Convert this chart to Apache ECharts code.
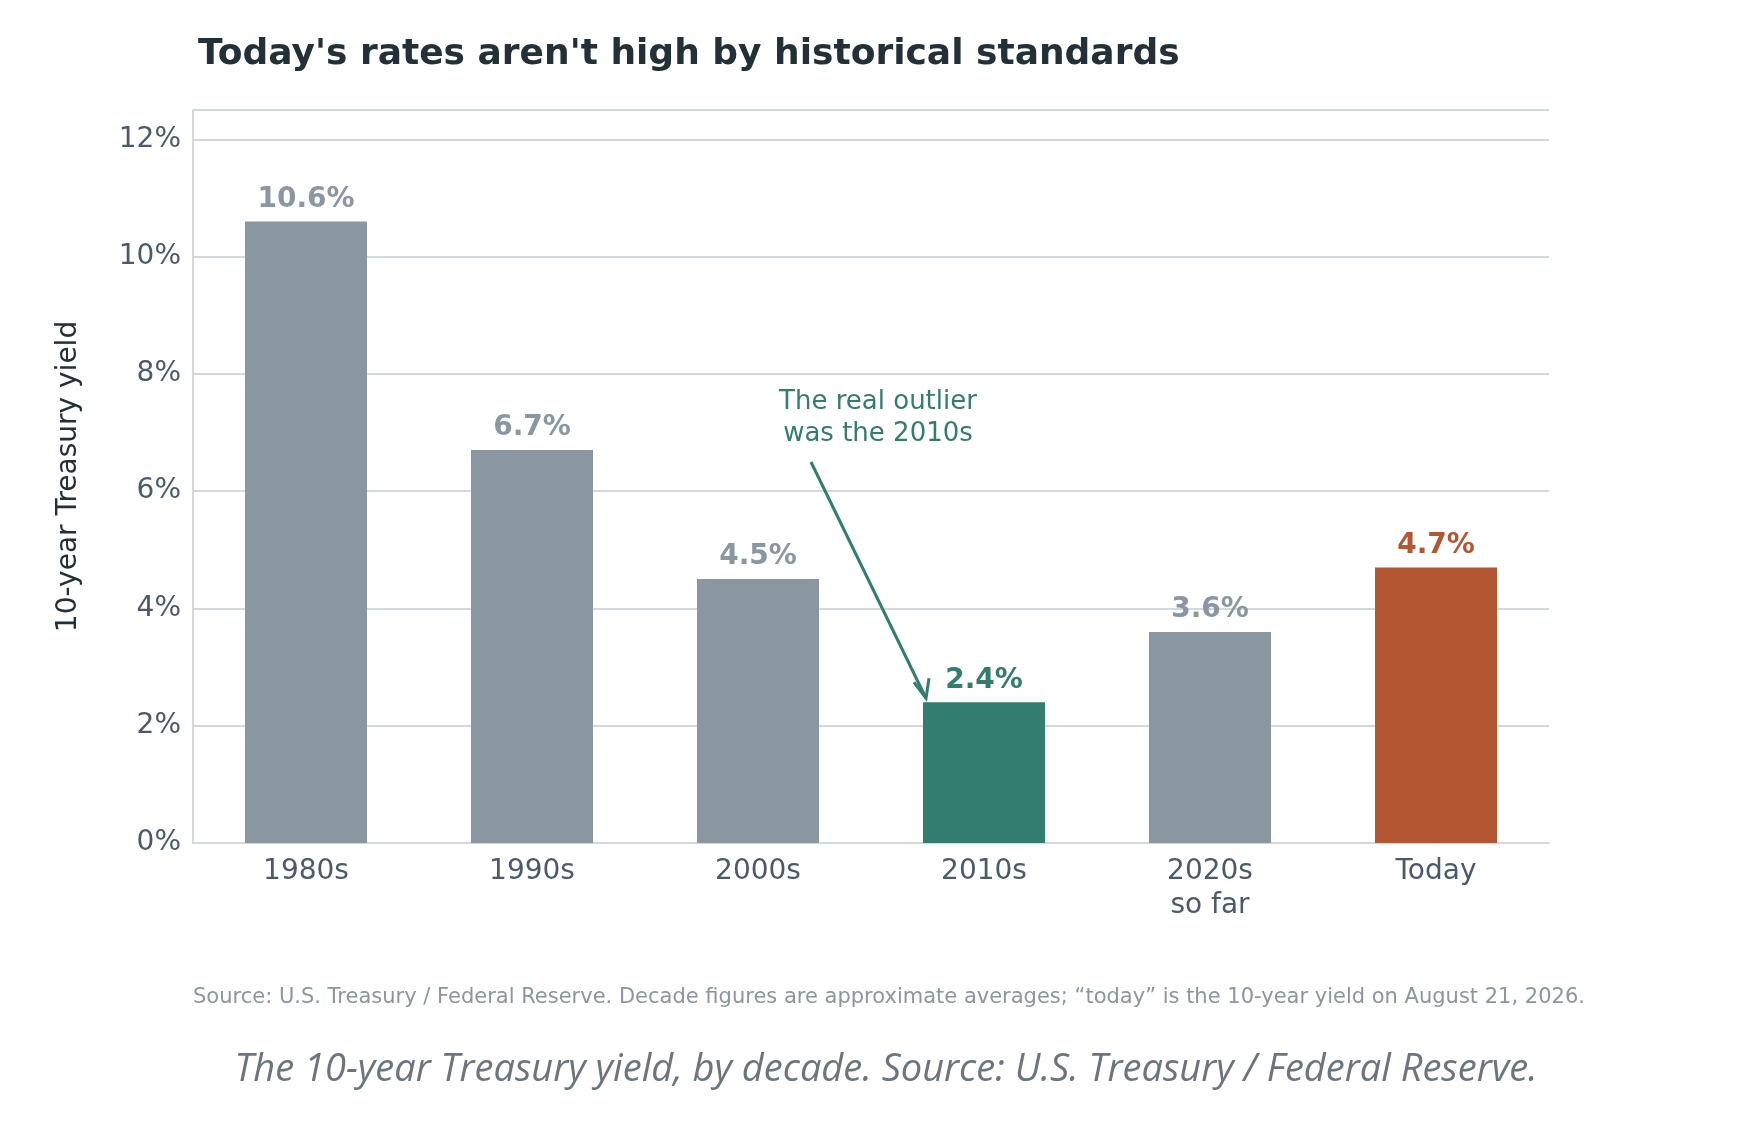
<!DOCTYPE html>
<html>
<head>
<meta charset="utf-8">
<script src="https://cdn.jsdelivr.net/npm/echarts@6/dist/echarts.min.js"></script>
<style>html,body{margin:0;background:#fff}#c{width:1756px;height:1126px}</style>
</head>
<body>
<div id="c"></div>
<script>
var categories = ['1980s', '1990s', '2000s', '2010s', '2020s\nso far', 'Today'];
var yields = [10.6, 6.7, 4.5, 2.4, 3.6, 4.7];
var barColors = ['#8a96a1', '#8a96a1', '#8a96a1', '#327d6f', '#8a96a1', '#b35733'];
var labelColors = ['#8a96a1', '#8a96a1', '#8a96a1', '#327d6f', '#8a96a1', '#b35733'];
var font = 'DejaVu Sans';

var chart = echarts.init(document.getElementById('c'));
chart.setOption({
  animation: false,
  title: {
    text: "Today's rates aren't high by historical standards",
    left: 193, top: 32,
    textStyle: { fontFamily: font, fontSize: 36, fontWeight: 'bold', color: '#243038' }
  },
  grid: { left: 193, right: 207, top: 110, bottom: 283, containLabel: false },
  xAxis: {
    type: 'category', data: categories,
    axisLine: { lineStyle: { color: '#d3d8de', width: 2 } },
    axisTick: { show: false },
    axisLabel: { fontFamily: font, fontSize: 28, color: '#4a5a6e', margin: 12, lineHeight: 34 }
  },
  yAxis: {
    type: 'value', min: 0, max: 12.5, interval: 2,
    name: '10-year Treasury yield', nameLocation: 'middle', nameGap: 110,
    nameTextStyle: { fontFamily: font, fontSize: 28, color: '#243038' },
    axisLine: { show: true, lineStyle: { color: '#d3d8de', width: 2 } },
    axisTick: { show: false },
    axisLabel: { fontFamily: font, fontSize: 28, color: '#4a5a6e', margin: 12,
      formatter: function (v) { return v % 2 === 0 && v <= 12 ? v + '%' : ''; } },
    splitLine: { lineStyle: { color: '#d3d8de', width: 2 } }
  },
  series: [{
    type: 'bar', barWidth: 122,
    data: yields.map(function (v, i) {
      return { value: v, itemStyle: { color: barColors[i] },
        label: { color: labelColors[i] } };
    }),
    label: { show: true, position: 'top', distance: 8, fontFamily: font, fontSize: 28,
      fontWeight: 'bold', formatter: function (p) { return p.value.toFixed(1) + '%'; } }
  }]
});

// yAxis max 12.5 keeps the top of the axis line above the 12% grid line
var tip = chart.convertToPixel({ gridIndex: 0 }, [3, 2.4]);
chart.setOption({
  graphic: [
    { type: 'text', left: 'center', x: 0, style: {
        text: 'The real outlier\nwas the 2010s', x: 793, y: 386, align: 'center',
        fontFamily: font, fontSize: 26, lineHeight: 32, fill: '#327d6f' } },
    { type: 'line', shape: { x1: 811, y1: 462, x2: tip[0] - 58, y2: tip[1] - 4 },
      style: { stroke: '#327d6f', lineWidth: 3 } },
    { type: 'polyline', shape: { points: [[tip[0] - 70, tip[1] - 20], [tip[0] - 58, tip[1] - 4], [tip[0] - 55, tip[1] - 24]] },
      style: { stroke: '#327d6f', lineWidth: 3, fill: null } },
    { type: 'text', style: {
        text: 'Source: U.S. Treasury / Federal Reserve. Decade figures are approximate averages; \u201ctoday\u201d is the 10-year yield on August 21, 2026.',
        x: 193, y: 987, fontFamily: font, fontSize: 21, fill: '#8a96a1' } },
    { type: 'text', style: {
        text: 'The 10-year Treasury yield, by decade. Source: U.S. Treasury / Federal Reserve.',
        x: 886, y: 1051, align: 'center', fontFamily: 'Open Sans', fontStyle: 'italic',
        fontSize: 38, fill: '#6b7580' } }
  ]
});
</script>
</body>
</html>
